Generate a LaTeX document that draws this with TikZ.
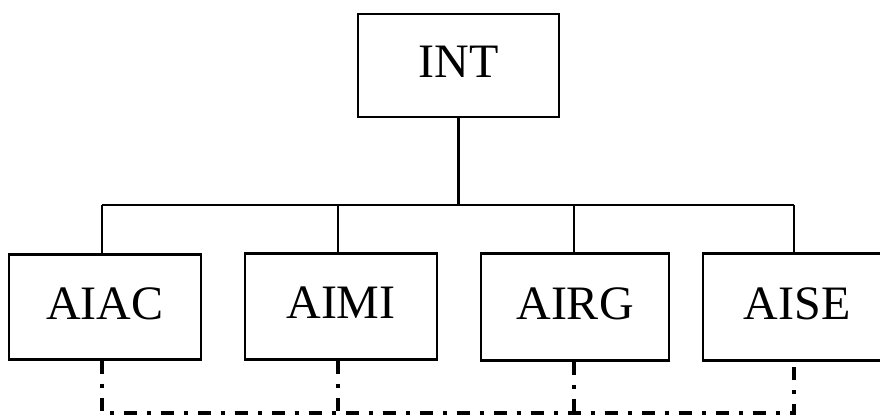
\documentclass[tikz,border=0pt]{standalone}
\usepackage{fontspec}
\setmainfont{Liberation Serif}
\begin{document}
\begin{tikzpicture}[x=1pt,y=-1pt,
  box/.style={draw=black,line width=2.4pt,fill=white,inner sep=0pt,
    text height=32pt,text depth=8pt,font=\fontsize{48}{56}\selectfont},
  conn/.style={line width=2.4pt},
  dd/.style={line width=3.4pt,dash pattern=on 13pt off 10pt on 4pt off 10pt}]
\useasboundingbox (0,0) rectangle (880,417);
\node[box,minimum width=201pt,minimum height=103pt] (int) at (458.5,65.5) {INT};
\node[box,minimum width=192pt,minimum height=105pt] (aiac) at (105,307) {AIAC};
\node[box,minimum width=192pt,minimum height=106pt] (aimi) at (341,306.5) {AIMI};
\node[box,minimum width=188pt,minimum height=107pt] (airg) at (575,307) {AIRG};
\node[box,minimum width=188pt,minimum height=107pt] (aise) at (797,307) {AISE};
\coordinate (b1) at (102,205);
\coordinate (b2) at (338,205);
\coordinate (b3) at (574,205);
\coordinate (b4) at (794,205);
\coordinate (d1) at (102,413);
\coordinate (d4) at (794,413);
\draw[conn] (int.south) -- (int.south |- b1);
\draw[conn] (b1) -- (b4);
\draw[conn] (b1) -- (b1 |- aiac.north);
\draw[conn] (b2) -- (b2 |- aimi.north);
\draw[conn] (b3) -- (b3 |- airg.north);
\draw[conn] (b4) -- (b4 |- aise.north);
\draw[dd] (d1 |- aiac.south) -- (d1) -- (d4) -- (d4 |- aise.south);
\draw[dd] (b2 |- aimi.south) -- (b2 |- d1);
\draw[dd] (b3 |- airg.south) -- (b3 |- d1);
\end{tikzpicture}
\end{document}
